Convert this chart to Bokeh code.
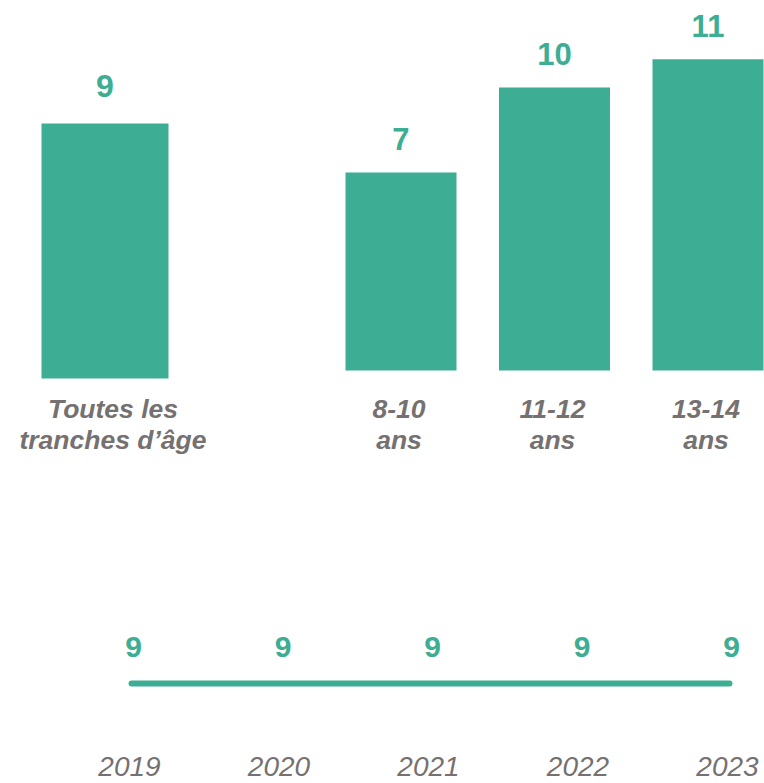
from bokeh.plotting import figure
from bokeh.layouts import column, row
from bokeh.models import Range1d, ColumnDataSource
from bokeh.core.properties import value
from bokeh.embed import file_html
from bokeh.resources import INLINE

# ---- data ----
overall_label = ["Toutes les\ntranches d\u2019\u00e2ge"]
overall_value = [9]
age_labels = ["8-10\nans", "11-12\nans", "13-14\nans"]
age_values = [7, 10, 11]
years = [2019, 2020, 2021, 2022, 2023]
year_values = [9, 9, 9, 9, 9]

GREEN = "#3DAD94"
GREY = "#757171"
FONT = value("Liberation Sans")


def base_fig(w, h, xr, yr):
    p = figure(width=w, height=h, x_range=xr, y_range=yr,
               output_backend="svg", toolbar_location=None,
               min_border=0, min_border_left=0, min_border_right=0,
               min_border_top=0, min_border_bottom=0)
    p.axis.visible = False
    p.grid.visible = False
    p.outline_line_color = None
    p.background_fill_color = "white"
    p.border_fill_color = "white"
    return p


# ---- left panel: all ages ----
src_l = ColumnDataSource(dict(x=list(range(len(overall_value))), v=overall_value,
                              lab=overall_label, vt=[str(v) for v in overall_value]))
left = base_fig(258, 460, Range1d(-0.6786, 0.9968), Range1d(-2.894, 13.343))
left.vbar(x="x", top="v", bottom=0, width=0.8247, source=src_l,
          fill_color=GREEN, line_color=None)
left.text(x="x", y="v", text="vt", source=src_l, text_align="center",
          text_baseline="middle", y_offset=-38, text_font=FONT,
          text_font_style="bold", text_font_size="32px", text_color=GREEN)
left.text(x="x", y=0, text="lab", source=src_l, text_align="center",
          text_baseline="middle", x_offset=8, y_offset=46, text_font=FONT,
          text_font_style="bold italic", text_font_size="26.5px",
          text_color=GREY, text_line_height=1.05)

# ---- right panel: age groups ----
src_r = ColumnDataSource(dict(x=list(range(len(age_values))), v=age_values,
                              lab=age_labels, vt=[str(v) for v in age_values]))
right = base_fig(506, 460, Range1d(-0.9283, 2.3681), Range1d(-3.180, 13.074))
right.vbar(x="x", top="v", bottom=0, width=0.7231, source=src_r,
           fill_color=GREEN, line_color=None)
right.text(x="x", y="v", text="vt", source=src_r, text_align="center",
           text_baseline="middle", y_offset=-33, text_font=FONT,
           text_font_style="bold", text_font_size="31px", text_color=GREEN)
right.text(x="x", y=0, text="lab", source=src_r, text_align="center",
           text_baseline="middle", x_offset=-2, y_offset=54, text_font=FONT,
           text_font_style="bold italic", text_font_size="26.5px",
           text_color=GREY, text_line_height=1.05)

# ---- bottom panel: trend ----
src_b = ColumnDataSource(dict(x=years, v=year_values,
                              vt=[str(v) for v in year_values],
                              yt=[str(y) for y in years]))
bottom = base_fig(764, 323, Range1d(2018.1237, 2023.2341), Range1d(0, 29.07))
bottom.line(x="x", y="v", source=src_b, line_color=GREEN, line_width=6,
            line_cap="round")
bottom.text(x="x", y="v", text="vt", source=src_b, text_align="center",
            text_baseline="middle", x_offset=2, y_offset=-37, text_font=FONT,
            text_font_style="bold", text_font_size="30px", text_color=GREEN)
bottom.text(x="x", y="v", text="yt", source=src_b, text_align="center",
            text_baseline="middle", x_offset=-2, y_offset=83, text_font=FONT,
            text_font_style="italic", text_font_size="28px", text_color=GREY)

layout = column(row(left, right), bottom)

open("out.html", "w").write(file_html(layout, INLINE))
